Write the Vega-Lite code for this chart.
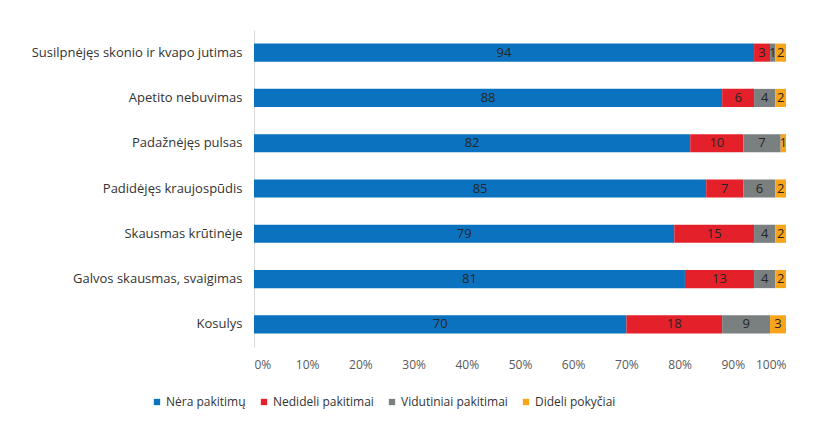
{
  "$schema": "https://vega.github.io/schema/vega-lite/v6.json",
  "width": 532,
  "height": 317,
  "autosize": {"type": "none"},
  "padding": {"left": 254, "top": 30, "right": 29, "bottom": 75},
  "background": "white",
  "config": {
    "font": "Open Sans",
    "view": {"stroke": null}
  },
  "data": {
    "values": [
      {"symptom": "Susilpnėjęs skonio ir kvapo jutimas", "category": "Nėra pakitimų", "ord": 1, "value": 94},
      {"symptom": "Susilpnėjęs skonio ir kvapo jutimas", "category": "Nedideli pakitimai", "ord": 2, "value": 3},
      {"symptom": "Susilpnėjęs skonio ir kvapo jutimas", "category": "Vidutiniai pakitimai", "ord": 3, "value": 1},
      {"symptom": "Susilpnėjęs skonio ir kvapo jutimas", "category": "Dideli pokyčiai", "ord": 4, "value": 2},
      {"symptom": "Apetito nebuvimas", "category": "Nėra pakitimų", "ord": 1, "value": 88},
      {"symptom": "Apetito nebuvimas", "category": "Nedideli pakitimai", "ord": 2, "value": 6},
      {"symptom": "Apetito nebuvimas", "category": "Vidutiniai pakitimai", "ord": 3, "value": 4},
      {"symptom": "Apetito nebuvimas", "category": "Dideli pokyčiai", "ord": 4, "value": 2},
      {"symptom": "Padažnėjęs pulsas", "category": "Nėra pakitimų", "ord": 1, "value": 82},
      {"symptom": "Padažnėjęs pulsas", "category": "Nedideli pakitimai", "ord": 2, "value": 10},
      {"symptom": "Padažnėjęs pulsas", "category": "Vidutiniai pakitimai", "ord": 3, "value": 7},
      {"symptom": "Padažnėjęs pulsas", "category": "Dideli pokyčiai", "ord": 4, "value": 1},
      {"symptom": "Padidėjęs kraujospūdis", "category": "Nėra pakitimų", "ord": 1, "value": 85},
      {"symptom": "Padidėjęs kraujospūdis", "category": "Nedideli pakitimai", "ord": 2, "value": 7},
      {"symptom": "Padidėjęs kraujospūdis", "category": "Vidutiniai pakitimai", "ord": 3, "value": 6},
      {"symptom": "Padidėjęs kraujospūdis", "category": "Dideli pokyčiai", "ord": 4, "value": 2},
      {"symptom": "Skausmas krūtinėje", "category": "Nėra pakitimų", "ord": 1, "value": 79},
      {"symptom": "Skausmas krūtinėje", "category": "Nedideli pakitimai", "ord": 2, "value": 15},
      {"symptom": "Skausmas krūtinėje", "category": "Vidutiniai pakitimai", "ord": 3, "value": 4},
      {"symptom": "Skausmas krūtinėje", "category": "Dideli pokyčiai", "ord": 4, "value": 2},
      {"symptom": "Galvos skausmas, svaigimas", "category": "Nėra pakitimų", "ord": 1, "value": 81},
      {"symptom": "Galvos skausmas, svaigimas", "category": "Nedideli pakitimai", "ord": 2, "value": 13},
      {"symptom": "Galvos skausmas, svaigimas", "category": "Vidutiniai pakitimai", "ord": 3, "value": 4},
      {"symptom": "Galvos skausmas, svaigimas", "category": "Dideli pokyčiai", "ord": 4, "value": 2},
      {"symptom": "Kosulys", "category": "Nėra pakitimų", "ord": 1, "value": 70},
      {"symptom": "Kosulys", "category": "Nedideli pakitimai", "ord": 2, "value": 18},
      {"symptom": "Kosulys", "category": "Vidutiniai pakitimai", "ord": 3, "value": 9},
      {"symptom": "Kosulys", "category": "Dideli pokyčiai", "ord": 4, "value": 3}
    ]
  },
  "encoding": {
    "y": {
      "field": "symptom",
      "type": "nominal",
      "sort": null,
      "title": null,
      "scale": {"paddingInner": 0.6, "paddingOuter": 0.3},
      "axis": {
        "ticks": false,
        "domainColor": "#d9d9d9",
        "labelFontSize": 13,
        "labelColor": "#333333",
        "labelPadding": 12,
        "labelLimit": 300
      }
    }
  },
  "layer": [
    {
      "mark": {"type": "bar"},
      "encoding": {
        "x": {
          "field": "value",
          "type": "quantitative",
          "stack": "zero",
          "title": null,
          "scale": {"domain": [0, 100], "nice": false},
          "axis": {
            "values": [0, 10, 20, 30, 40, 50, 60, 70, 80, 90, 100],
            "labelExpr": "datum.value + '%'",
            "grid": false,
            "domain": false,
            "ticks": false,
            "labelFontSize": 12,
            "labelColor": "#595959",
            "labelPadding": 12
          }
        },
        "color": {
          "field": "category",
          "type": "nominal",
          "scale": {
            "domain": ["Nėra pakitimų", "Nedideli pakitimai", "Vidutiniai pakitimai", "Dideli pokyčiai"],
            "range": ["#0A72BE", "#E4202A", "#7A7F7F", "#F8A51B"]
          },
          "legend": {
            "title": null,
            "orient": "none",
            "direction": "horizontal",
            "legendX": -103,
            "legendY": 366,
            "padding": 0,
            "symbolType": "square",
            "symbolSize": 40,
            "symbolStrokeWidth": 0,
            "labelFontSize": 12,
            "labelColor": "#333333",
            "labelOffset": 3,
            "columnPadding": 12
          }
        },
        "order": {"field": "ord", "type": "quantitative"}
      }
    },
    {
      "mark": {"type": "text", "fontSize": 13, "color": "#262626"},
      "encoding": {
        "x": {"field": "value", "type": "quantitative", "stack": "zero", "bandPosition": 0.5},
        "detail": {"field": "category", "type": "nominal"},
        "text": {"field": "value", "type": "quantitative"},
        "order": {"field": "ord", "type": "quantitative"}
      }
    }
  ]
}
